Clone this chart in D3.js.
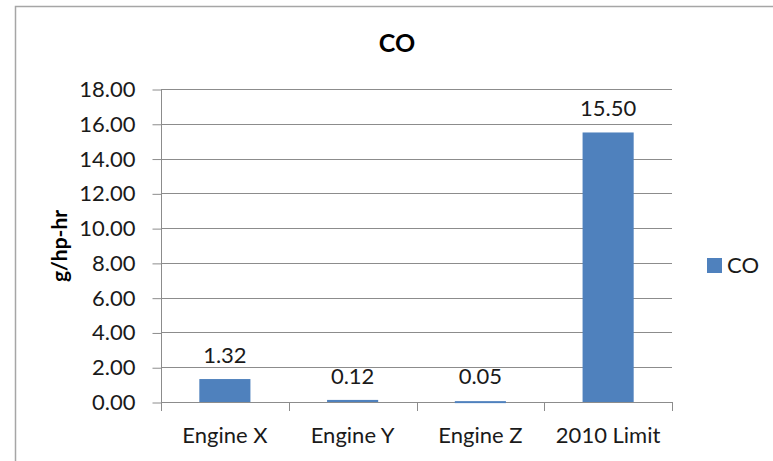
<!DOCTYPE html>
<html>
<head>
<meta charset="utf-8">
<script src="https://cdn.jsdelivr.net/npm/d3@7"></script>
<style>
  html, body { margin: 0; padding: 0; background: #fff; }
  svg { display: block; font-family: Lato, "Open Sans", sans-serif; }
</style>
</head>
<body>
<svg id="chart" width="773" height="461"></svg>
<script>
// CO emissions by engine vs. the 2010 limit
const categories = ["Engine X", "Engine Y", "Engine Z", "2010 Limit"];
const coValues = [1.32, 0.12, 0.05, 15.50];
const yTicks = [0, 2, 4, 6, 8, 10, 12, 14, 16, 18];
const seriesName = "CO";
const chartTitle = "CO";
const yAxisTitle = "g/hp-hr";

const svg = d3.select("#chart");
const barColor = "#4F81BD";
const gridColor = "#8c8c8c";
const textColor = "#1a1a1a";
const fontSize = "22px";

// outer chart frame
svg.append("rect")
  .attr("x", 15.5).attr("y", 6.5)
  .attr("width", 800).attr("height", 500)
  .attr("fill", "#fff")
  .attr("stroke", "#a6a6a6").attr("stroke-width", 1.5);

const plot = { left: 161, right: 672, top: 89, bottom: 402 };

const x = d3.scaleBand()
  .domain(categories)
  .range([plot.left, plot.right])
  .paddingInner(0.6).paddingOuter(0.3);

const y = d3.scaleLinear()
  .domain([0, 18])
  .range([plot.bottom, plot.top]);

// horizontal gridlines
svg.append("g")
  .selectAll("line")
  .data(yTicks)
  .join("line")
  .attr("x1", plot.left).attr("x2", plot.right)
  .attr("y1", d => Math.round(y(d)) + 0.5)
  .attr("y2", d => Math.round(y(d)) + 0.5)
  .attr("stroke", gridColor).attr("stroke-width", 1);

// y axis
const yAxis = d3.axisLeft(y)
  .tickValues(yTicks)
  .tickFormat(d3.format(".2f"))
  .tickSize(9)
  .tickPadding(17);
const gy = svg.append("g")
  .attr("transform", `translate(${plot.left + 0.5},0.5)`)
  .call(yAxis);
gy.select(".domain").attr("stroke", gridColor).attr("d", `M0,${plot.top}V${plot.bottom}`);
gy.selectAll(".tick line").attr("stroke", gridColor);
gy.selectAll(".tick text")
  .attr("fill", textColor).style("font-size", fontSize).style("font-family", "Lato, sans-serif");

// category axis with tick marks between categories
const boundaries = d3.range(categories.length + 1).map(i => plot.left + i * (plot.right - plot.left) / categories.length);
svg.append("g")
  .selectAll("line")
  .data(boundaries)
  .join("line")
  .attr("x1", d => Math.round(d) + 0.5).attr("x2", d => Math.round(d) + 0.5)
  .attr("y1", plot.bottom).attr("y2", plot.bottom + 9)
  .attr("stroke", gridColor);

svg.append("g")
  .selectAll("text")
  .data(categories)
  .join("text")
  .attr("x", d => x(d) + x.bandwidth() / 2)
  .attr("y", 443)
  .attr("text-anchor", "middle")
  .attr("fill", textColor)
  .style("font-size", fontSize)
  .text(d => d);

// bars
const data = categories.map((c, i) => ({ cat: c, value: coValues[i] }));
svg.append("g")
  .selectAll("rect")
  .data(data)
  .join("rect")
  .attr("x", d => x(d.cat))
  .attr("width", x.bandwidth())
  .attr("y", d => y(d.value))
  .attr("height", d => Math.max(2, y(0) - y(d.value)))
  .attr("fill", barColor);

// value labels
svg.append("g")
  .selectAll("text")
  .data(data)
  .join("text")
  .attr("x", d => x(d.cat) + x.bandwidth() / 2)
  .attr("y", d => Math.min(y(d.value), y(0) - 2) - 16)
  .attr("text-anchor", "middle")
  .attr("fill", textColor)
  .style("font-size", fontSize)
  .text(d => d3.format(".2f")(d.value));

// title
svg.append("text")
  .attr("x", 397).attr("y", 52)
  .attr("text-anchor", "middle")
  .attr("fill", "#000")
  .style("font-size", "25px").style("font-weight", "bold")
  .text(chartTitle);

// y axis title
svg.append("text")
  .attr("transform", "translate(67,246) rotate(-90)")
  .attr("text-anchor", "middle")
  .attr("fill", "#000")
  .style("font-size", "21px").style("font-weight", "bold")
  .text(yAxisTitle);

// legend
const legend = svg.append("g").attr("transform", "translate(707,258)");
legend.append("rect").attr("width", 15).attr("height", 15).attr("fill", barColor);
legend.append("text")
  .attr("x", 20).attr("y", 15)
  .attr("fill", textColor)
  .style("font-size", fontSize)
  .text(seriesName);
</script>
</body>
</html>
